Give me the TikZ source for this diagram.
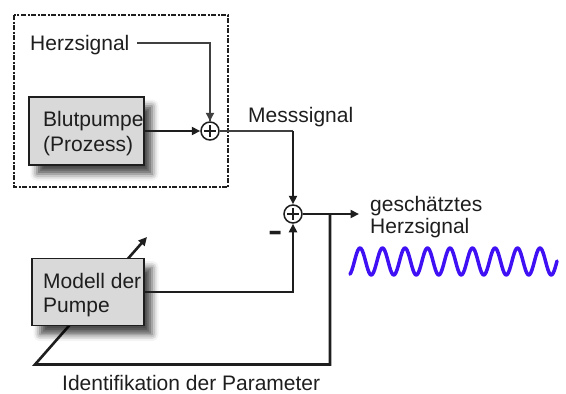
\documentclass[tikz,border=0pt]{standalone}
\usepackage{fontspec}
\setmainfont{Liberation Sans}
\usetikzlibrary{arrows.meta,shadows.blur,calc}
\definecolor{boxgray}{HTML}{D9D9D9}
\definecolor{ink}{HTML}{1E1E1E}
\definecolor{wavecol}{RGB}{64,16,245}
\begin{document}
\begin{tikzpicture}[x=1pt,y=-1pt,
  conn/.style={draw=ink, line width=2.8pt},
  thinconn/.style={draw=ink!85, line width=1.3pt},
  tip/.style={-{Triangle[length=8.5pt,width=8pt]}},
  box/.style={draw=ink, line width=1.8pt, fill=boxgray, inner sep=0pt,
    blur shadow={shadow xshift=8pt, shadow yshift=-9pt, shadow blur radius=6.5pt, shadow opacity=70}},
  sumnode/.style={circle, draw=ink, line width=1.5pt, fill=white, minimum size=18pt, inner sep=0pt,
    path picture={\draw[line width=1.4pt] ($(path picture bounding box.center)+(-6,0)$) -- ++(12,0)
      ($(path picture bounding box.center)+(0,-6)$) -- ++(0,12);}},
  txt/.style={font=\fontsize{21}{25}\selectfont, text=ink, inner sep=0pt, anchor=base west},
  frame/.style={draw=ink, line width=1.6pt, dash pattern=on 5pt off 1.5pt on 2pt off 1.5pt},
  wave/.style={draw=wavecol, line width=3.5pt, line cap=round, line join=round}
]
\useasboundingbox (0,0) rectangle (566,394);

% dashed process frame
\draw[frame] (14,15) rectangle (228,187);

% coordinates for free ends
\coordinate (hs) at (137,43);
\coordinate (br) at (330,214);
\coordinate (fbc) at (35,364.5);
\coordinate (ptip) at (147,237);
\coordinate (out) at (359,214);

% feedback path with parameter arrow (behind the model box)
\draw[conn, line width=2.6pt, tip] (br) |- (fbc) -- (ptip);

% blocks
\node[box, minimum width=115pt, minimum height=68pt] (blut) at (86.5,131) {};
\node[box, minimum width=112pt, minimum height=67pt] (modell) at (88,292) {};

% sum points
\node[sumnode] (s1) at (210,131) {};
\node[sumnode] (s2) at (293,214) {};

% texts
\node[txt] (herz) at (30,50) {Herzsignal};
\node[txt] (blut1) at (43,126) {Blutpumpe};
\node[txt] (blut2) at (43,151) {(Prozess)};
\node[txt] (mess) at (248,122) {Messsignal};
\node[txt] (mod1) at (43,288) {Modell der};
\node[txt] (mod2) at (43,312) {Pumpe};
\node[txt] (ges1) at (370,211) {geschätztes};
\node[txt] (ges2) at (370,233) {Herzsignal};
\node[txt] (ident) at (62,390.5) {Identifikation der Parameter};
\node[font=\fontsize{22}{25}\bfseries, text=ink, inner sep=0pt] (minus) at (276,237) {\scalebox{1}[1.6]{–}};

% connectors
\draw[thinconn] (hs) -| (s1.north);
\draw[thinconn, line width=1.8pt, tip] ($(s1.north)+(0,-20)$) -- (s1.north);
\draw[conn, tip] (blut.east |- s1.west) -- (s1.west);
\draw[thinconn] (s1.east) -- (s1.east -| s2.north);
\draw[conn, tip] (s1.east -| s2.north) -- (s2.north);
\draw[conn, tip] (modell.east) -| (s2.south);
\draw[conn, line width=2.4pt, tip] (s2.east) -- (out);

% estimated heart signal
\draw[wave] plot[domain=350:557, samples=220, smooth] (\x, {261.5 - 13.5*cos(16*(\x-360))});
\end{tikzpicture}
\end{document}
